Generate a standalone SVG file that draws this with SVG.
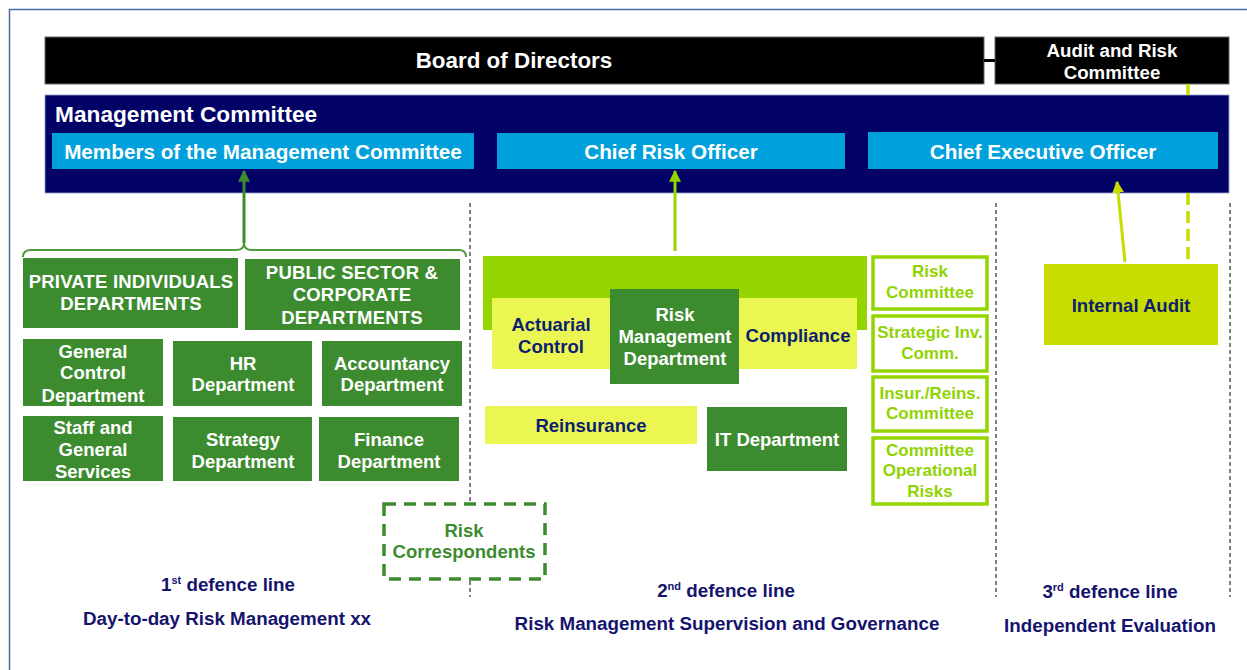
<svg xmlns="http://www.w3.org/2000/svg" width="1247" height="670" viewBox="0 0 1247 670">
<defs>
<style>
text{font-family:"Liberation Sans",Arial,sans-serif;font-weight:bold;text-anchor:middle}
.w{fill:#ffffff}
.nv{fill:#0d1f6e}
.bt{fill:#14146e;font-size:18.8px}
.dg{fill:#3d8b2f}
.lg{fill:#94d500}
.yl{fill:#ebf653}
.cm{fill:#ffffff;stroke:#94d500;stroke-width:3.5}
.cmt{fill:#8fd400;font-size:17px}
.gt{font-size:18.5px}
.hd{font-size:20.7px}
.div{stroke:#555;stroke-width:1.5;stroke-dasharray:4 3;fill:none}
</style>
<marker id="ahG" viewBox="0 0 10 10" refX="9" refY="5" markerWidth="4" markerHeight="4" orient="auto"><path d="M0,0 L10,5 L0,10 z" fill="#3d8b2f"/></marker>
<marker id="ahL" viewBox="0 0 10 10" refX="9" refY="5" markerWidth="4" markerHeight="4" orient="auto"><path d="M0,0 L10,5 L0,10 z" fill="#94d500"/></marker>
<marker id="ahY" viewBox="0 0 10 10" refX="9" refY="5" markerWidth="4" markerHeight="4" orient="auto"><path d="M0,0 L10,5 L0,10 z" fill="#c8dc00"/></marker>
</defs>
<rect width="1247" height="670" fill="#ffffff"/>
<path d="M9.5,670 L9.5,9.5 L1247,9.5" fill="none" stroke="#4a68a8" stroke-width="1.5"/>

<g id="dividers">
<line class="div" x1="470" y1="203" x2="470" y2="597"/>
<line class="div" x1="996" y1="203" x2="996" y2="597"/>
<line class="div" x1="1230" y1="203" x2="1230" y2="597"/>
</g>

<g id="board">
<rect x="45" y="37" width="939" height="47" fill="#000" stroke="#666" stroke-width="1"/>
<text x="514" y="68" class="w" font-size="22.4">Board of Directors</text>
</g>
<g id="audit-risk-committee">
<rect x="995" y="37" width="234" height="47" fill="#000" stroke="#666" stroke-width="1"/>
<text x="1112" y="57" class="w" font-size="18.7">Audit and Risk</text>
<text x="1112" y="79" class="w" font-size="18.7">Committee</text>
</g>
<g id="management-committee">
<rect x="45" y="95" width="1184" height="98" fill="#020266" stroke="#9aa0c8" stroke-width="0.8"/>
<text x="55" y="122" class="w" font-size="22.7" style="text-anchor:start">Management Committee</text>
</g>
<g id="members">
<rect x="52" y="133" width="422" height="36" fill="#00a0dc"/>
<text x="263" y="159" class="w hd">Members of the Management Committee</text>
</g>
<g id="cro">
<rect x="497" y="133" width="348" height="36" fill="#00a0dc"/>
<text x="671" y="159" class="w hd">Chief Risk Officer</text>
</g>
<g id="ceo">
<rect x="868" y="132" width="350" height="37" fill="#00a0dc"/>
<text x="1043" y="159" class="w hd">Chief Executive Officer</text>
</g>

<g id="private-individuals">
<rect x="23" y="258" width="215" height="70" class="dg"/>
<text x="131" y="288" class="w gt" letter-spacing="0.2">PRIVATE INDIVIDUALS</text>
<text x="131" y="310" class="w gt" letter-spacing="0.2">DEPARTMENTS</text>
</g>
<g id="public-sector">
<rect x="245" y="259" width="215" height="71" class="dg"/>
<text x="352" y="279" class="w gt" letter-spacing="0.2">PUBLIC SECTOR &amp;</text>
<text x="352" y="301" class="w gt" letter-spacing="0.2">CORPORATE</text>
<text x="352" y="324" class="w gt" letter-spacing="0.2">DEPARTMENTS</text>
</g>
<g id="general-control">
<rect x="23" y="339" width="140" height="67" class="dg"/>
<text x="93" y="358" class="w gt">General</text>
<text x="93" y="379" class="w gt">Control</text>
<text x="93" y="402" class="w gt">Department</text>
</g>
<g id="hr">
<rect x="173" y="341" width="139" height="65" class="dg"/>
<text x="243" y="370" class="w gt">HR</text>
<text x="243" y="391" class="w gt">Department</text>
</g>
<g id="accountancy">
<rect x="322" y="341" width="140" height="65" class="dg"/>
<text x="392" y="370" class="w gt">Accountancy</text>
<text x="392" y="391" class="w gt">Department</text>
</g>
<g id="staff">
<rect x="23" y="416" width="140" height="65" class="dg"/>
<text x="93" y="434" class="w gt">Staff and</text>
<text x="93" y="456" class="w gt">General</text>
<text x="93" y="478" class="w gt">Services</text>
</g>
<g id="strategy">
<rect x="173" y="417" width="139" height="64" class="dg"/>
<text x="243" y="446" class="w gt">Strategy</text>
<text x="243" y="468" class="w gt">Department</text>
</g>
<g id="finance">
<rect x="319" y="417" width="140" height="64" class="dg"/>
<text x="389" y="446" class="w gt">Finance</text>
<text x="389" y="468" class="w gt">Department</text>
</g>

<g id="second-line-band">
<rect x="483" y="256" width="384" height="74" class="lg"/>
<rect x="492" y="298" width="365" height="71" class="yl"/>
</g>
<g id="actuarial">
<text x="551" y="331" class="nv gt">Actuarial</text>
<text x="551" y="353" class="nv gt">Control</text>
</g>
<g id="compliance">
<text x="798" y="342" class="nv gt">Compliance</text>
</g>
<g id="risk-management-department">
<rect x="610" y="289" width="129" height="95" class="dg"/>
<text x="675" y="321" class="w gt">Risk</text>
<text x="675" y="343" class="w gt">Management</text>
<text x="675" y="365" class="w gt">Department</text>
</g>
<g id="reinsurance">
<rect x="485" y="406" width="212" height="38" class="yl"/>
<text x="591" y="432" class="nv gt">Reinsurance</text>
</g>
<g id="it-department">
<rect x="707" y="407" width="140" height="64" class="dg"/>
<text x="777" y="446" class="w gt">IT Department</text>
</g>

<g id="risk-committee">
<rect x="873" y="257" width="114" height="52" class="cm"/>
<text x="930" y="277" class="cmt">Risk</text>
<text x="930" y="298" class="cmt">Committee</text>
</g>
<g id="strategic-inv-comm">
<rect x="873" y="316" width="114" height="55" class="cm"/>
<text x="930" y="338" class="cmt">Strategic Inv.</text>
<text x="930" y="359" class="cmt">Comm.</text>
</g>
<g id="insur-reins-committee">
<rect x="873" y="377" width="114" height="54" class="cm"/>
<text x="930" y="399" class="cmt">Insur./Reins.</text>
<text x="930" y="419" class="cmt">Committee</text>
</g>
<g id="committee-operational-risks">
<rect x="873" y="438" width="114" height="66" class="cm"/>
<text x="930" y="456" class="cmt">Committee</text>
<text x="930" y="476" class="cmt">Operational</text>
<text x="930" y="497" class="cmt">Risks</text>
</g>

<g id="internal-audit">
<rect x="1044" y="264" width="174" height="81" fill="#c8dc00"/>
<text x="1131" y="312" class="nv gt">Internal Audit</text>
</g>

<g id="risk-correspondents">
<rect x="384" y="504" width="161" height="75" fill="#fff" stroke="#3d8b2f" stroke-width="3.5" stroke-dasharray="12 8"/>
<text x="464" y="537" class="gt" fill="#3d8b2f">Risk</text>
<text x="464" y="558" class="gt" fill="#3d8b2f">Correspondents</text>
</g>

<g id="labels">
<text x="228" y="591" class="bt">1<tspan font-size="11" dy="-7">st</tspan><tspan dy="7"> defence line</tspan></text>
<text x="227" y="625" class="bt">Day-to-day Risk Management xx</text>
<text x="726" y="597" class="bt">2<tspan font-size="11" dy="-7">nd</tspan><tspan dy="7"> defence line</tspan></text>
<text x="727" y="630" class="bt">Risk Management Supervision and Governance</text>
<text x="1110" y="598" class="bt">3<tspan font-size="11" dy="-7">rd</tspan><tspan dy="7"> defence line</tspan></text>
<text x="1110" y="632" class="bt">Independent Evaluation</text>
</g>

<g id="connectors">
<line x1="984" y1="60.5" x2="995" y2="60.5" stroke="#000" stroke-width="3"/>
<path d="M23,257 Q23,250 31,250 L236,250 Q244,250 244,243 Q244,250 252,250 L459,250 Q466,250 466,257" fill="none" stroke="#4c9a3c" stroke-width="2"/>
<line x1="244" y1="243" x2="244" y2="171" stroke="#3d8b2f" stroke-width="3" marker-end="url(#ahG)"/>
<line x1="675" y1="251" x2="675" y2="171" stroke="#94d500" stroke-width="3" marker-end="url(#ahL)"/>
<line x1="1125" y1="262" x2="1117" y2="182" stroke="#c8dc00" stroke-width="3" marker-end="url(#ahY)"/>
<line x1="1188" y1="84" x2="1188" y2="95" stroke="#c8dc00" stroke-width="3.5"/>
<line x1="1188" y1="193" x2="1188" y2="264" stroke="#c8dc00" stroke-width="3.5" stroke-dasharray="12 6"/>
</g>
</svg>
